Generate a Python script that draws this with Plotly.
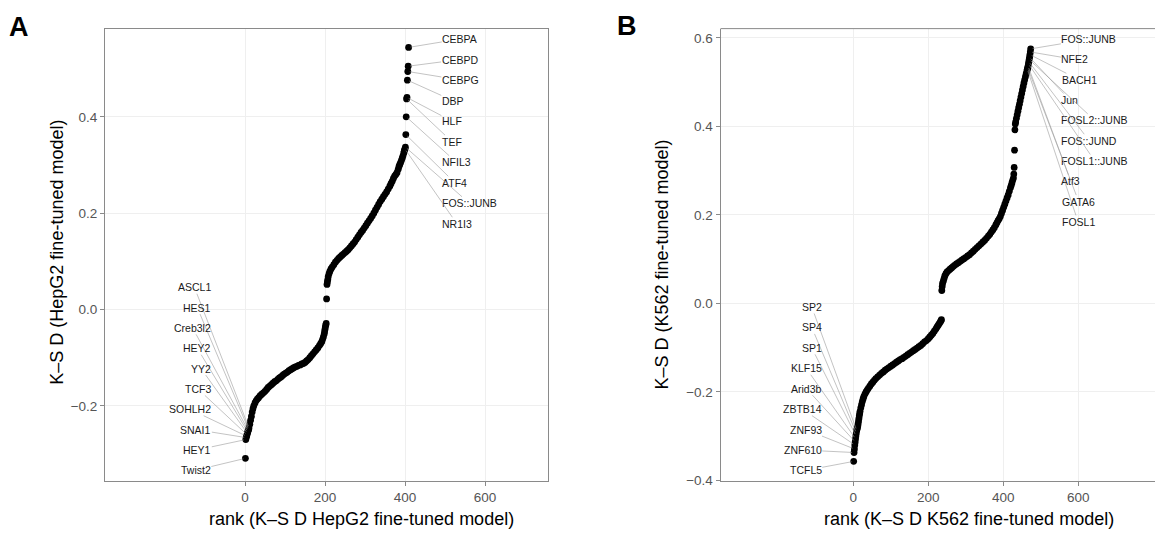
import plotly.graph_objects as go

# ---------------- data ----------------
A_rank = [1, 2, 3, 4, 5, 6, 7, 8, 9, 10, 12, 14, 16, 18, 20, 22, 25, 28, 31, 34, 38, 42, 46, 50,
          54, 58, 62, 66, 70, 74, 78, 82, 86, 90, 94, 98, 102, 106, 110, 114, 118, 122, 126, 130,
          134, 138, 142, 146, 150, 154, 158, 162, 166, 170, 174, 178, 182, 186, 189, 192, 194, 196,
          198, 199, 200, 201, 202, 203, 204, 205, 206, 207, 208, 210, 212, 215, 218, 222, 226, 230,
          234, 238, 242, 246, 250, 254, 258, 262, 266, 270, 274, 278, 282, 286, 290, 294, 298, 302,
          306, 310, 314, 318, 322, 326, 330, 334, 338, 342, 346, 350, 354, 358, 362, 365, 368, 371,
          374, 377, 380, 383, 385, 387, 389, 391, 393, 395, 397, 398, 399, 400, 401, 402, 403, 404,
          405, 406, 407, 408, 409]
A_ksd = [-0.309, -0.270, -0.266, -0.263, -0.260, -0.257, -0.254, -0.251, -0.249, -0.246, -0.238,
         -0.230, -0.222, -0.213, -0.206, -0.200, -0.194, -0.189, -0.186, -0.183, -0.179, -0.176,
         -0.173, -0.170, -0.166, -0.162, -0.159, -0.156, -0.153, -0.150, -0.148, -0.145, -0.142,
         -0.140, -0.137, -0.134, -0.132, -0.130, -0.127, -0.125, -0.123, -0.121, -0.119, -0.118,
         -0.116, -0.115, -0.113, -0.112, -0.110, -0.107, -0.104, -0.100, -0.096, -0.092, -0.088,
         -0.084, -0.080, -0.075, -0.071, -0.067, -0.062, -0.057, -0.051, -0.046, -0.041, -0.036,
         -0.032, -0.029, 0.022, 0.052, 0.057, 0.062, 0.068, 0.074, 0.079, 0.084, 0.088, 0.093,
         0.098, 0.102, 0.106, 0.109, 0.112, 0.115, 0.118, 0.121, 0.124, 0.128, 0.132, 0.136, 0.140,
         0.145, 0.150, 0.155, 0.160, 0.164, 0.169, 0.174, 0.179, 0.184, 0.189, 0.194, 0.200, 0.206,
         0.212, 0.218, 0.224, 0.229, 0.234, 0.239, 0.244, 0.250, 0.256, 0.261, 0.266, 0.272, 0.277,
         0.280, 0.284, 0.291, 0.297, 0.301, 0.305, 0.309, 0.314, 0.319, 0.325, 0.328, 0.331, 0.333,
         0.337, 0.363, 0.400, 0.437, 0.440, 0.476, 0.494, 0.505, 0.544]

A_top_labels = ["CEBPA", "CEBPD", "CEBPG", "DBP", "HLF", "TEF", "NFIL3", "ATF4", "FOS::JUNB", "NR1I3"]
A_top_ranks = [409, 408, 407, 406, 405, 404, 403, 402, 401, 400]
A_bottom_labels = ["ASCL1", "HES1", "Creb3l2", "HEY2", "YY2", "TCF3", "SOHLH2", "SNAI1", "HEY1", "Twist2"]
A_bottom_ranks = [10, 9, 8, 7, 6, 5, 4, 3, 2, 1]

B_rank = [1, 2, 3, 4, 5, 6, 7, 8, 9, 10, 11, 12, 13, 14, 15, 16, 17, 18, 20, 22, 24, 26, 28, 31, 34,
          37, 40, 44, 48, 52, 56, 60, 65, 70, 75, 80, 85, 90, 95, 100, 105, 110, 115, 120, 125, 130,
          135, 140, 145, 150, 155, 160, 165, 170, 175, 180, 185, 190, 195, 200, 204, 208, 212, 216,
          220, 223, 226, 229, 232, 234, 235, 236, 237, 238, 240, 242, 244, 247, 250, 254, 258, 262,
          266, 270, 275, 280, 285, 290, 295, 300, 305, 310, 315, 320, 325, 330, 335, 340, 345, 350,
          355, 360, 364, 368, 372, 376, 380, 383, 386, 389, 392, 395, 398, 401, 404, 407, 410, 413,
          416, 419, 421, 423, 425, 427, 428, 429, 430, 431, 432, 433, 435, 437, 439, 441, 443, 445,
          447, 449, 451, 453, 455, 457, 459, 461, 463, 464, 465, 466, 467, 468, 469, 470, 471, 472, 473]
B_ksd = [-0.357, -0.337, -0.329, -0.320, -0.313, -0.306, -0.299, -0.293, -0.287, -0.284, -0.281,
         -0.277, -0.272, -0.266, -0.260, -0.254, -0.249, -0.244, -0.236, -0.229, -0.222, -0.216,
         -0.211, -0.205, -0.200, -0.196, -0.192, -0.187, -0.182, -0.178, -0.174, -0.170, -0.166,
         -0.162, -0.158, -0.155, -0.151, -0.148, -0.145, -0.142, -0.139, -0.136, -0.133, -0.130,
         -0.127, -0.125, -0.122, -0.119, -0.116, -0.113, -0.110, -0.107, -0.104, -0.101, -0.098,
         -0.095, -0.091, -0.087, -0.084, -0.080, -0.076, -0.072, -0.068, -0.063, -0.058, -0.054,
         -0.050, -0.046, -0.042, -0.039, -0.037, 0.029, 0.038, 0.045, 0.050, 0.056, 0.062, 0.067,
         0.071, 0.074, 0.077, 0.080, 0.083, 0.086, 0.089, 0.092, 0.095, 0.098, 0.101, 0.104, 0.107,
         0.110, 0.114, 0.118, 0.122, 0.126, 0.130, 0.134, 0.138, 0.142, 0.147, 0.152, 0.156, 0.161,
         0.166, 0.171, 0.177, 0.182, 0.187, 0.191, 0.196, 0.203, 0.210, 0.217, 0.224, 0.231, 0.238,
         0.245, 0.253, 0.261, 0.266, 0.272, 0.278, 0.283, 0.292, 0.307, 0.346, 0.392, 0.405, 0.410,
         0.418, 0.426, 0.434, 0.442, 0.450, 0.458, 0.466, 0.474, 0.482, 0.490, 0.498, 0.505, 0.512,
         0.519, 0.525, 0.529, 0.532, 0.536, 0.541, 0.546, 0.551, 0.556, 0.562, 0.568, 0.575]

B_top_labels = ["FOS::JUNB", "NFE2", "BACH1", "Jun", "FOSL2::JUNB", "FOS::JUND", "FOSL1::JUNB",
                "Atf3", "GATA6", "FOSL1"]
B_top_ranks = [473, 472, 471, 470, 469, 468, 467, 466, 465, 464]
B_bottom_labels = ["SP2", "SP4", "SP1", "KLF15", "Arid3b", "ZBTB14", "ZNF93", "ZNF610", "TCFL5"]
B_bottom_ranks = [9, 8, 7, 6, 5, 4, 3, 2, 1]

X_TICKS = [0, 200, 400, 600]
A_Y_TICKS = [-0.2, 0.0, 0.2, 0.4]
B_Y_TICKS = [-0.4, -0.2, 0.0, 0.2, 0.4, 0.6]

# ---------------- layout geometry (pixels) ----------------
W, H = 1155, 540
FONT = "Liberation Sans, Arial, Helvetica, sans-serif"
PANELS = {
    "A": dict(x0=105, x1=548, y0=29, y1=487.3, xr=(-350, 757.5), yr=(-0.356, 0.583), xa="x", ya="y"),
    "B": dict(x0=720.5, x1=1155, y0=29, y1=487.3, xr=(-354.1, 804.5), yr=(-0.4013, 0.6207), xa="x2", ya="y2"),
}
LABEL_SIZE = 10.5
CW = {c: 667 for c in "ABEKPSVXY"}
CW.update({c: 722 for c in "CDHNRUw"})
CW.update({c: 778 for c in "GOQ"})
CW.update({"F": 611, "T": 611, "Z": 611, "I": 278, "J": 500, "L": 556, "M": 833, "W": 944})
CW.update({c: 556 for c in "0123456789abdeghnopqu"})
CW.update({c: 500 for c in "cksvxyz"})
CW.update({"f": 278, "t": 278, "i": 222, "j": 222, "l": 222, "m": 833, "r": 333, ":": 278})


def text_w(s, size):
    return sum(CW.get(ch, 556) for ch in s) / 1000.0 * size


def px2x(p, px):
    return p["xr"][0] + (px - p["x0"]) / (p["x1"] - p["x0"]) * (p["xr"][1] - p["xr"][0])


def px2y(p, py):
    return p["yr"][0] + (p["y1"] - py) / (p["y1"] - p["y0"]) * (p["yr"][1] - p["yr"][0])


fig = go.Figure()
fig.add_trace(go.Scatter(x=A_rank, y=A_ksd, mode="markers", xaxis="x", yaxis="y",
                         marker=dict(color="black", size=6.8, line=dict(width=0)), showlegend=False))
fig.add_trace(go.Scatter(x=B_rank, y=B_ksd, mode="markers", xaxis="x2", yaxis="y2",
                         marker=dict(color="black", size=6.8, line=dict(width=0)), showlegend=False))

annotations = []


def add_labels(panel, labels, ranks, rank_list, val_list, side, edge_px, y_first, y_step):
    p = PANELS[panel]
    lookup = dict(zip(rank_list, val_list))
    for i, (lab, r) in enumerate(zip(labels, ranks)):
        w = text_w(lab, LABEL_SIZE)
        cx = edge_px + w / 2 if side == "right" else edge_px - w / 2
        cy = y_first + i * y_step
        annotations.append(dict(
            x=r, y=lookup[r], xref=p["xa"], yref=p["ya"],
            ax=px2x(p, cx), ay=px2y(p, cy), axref=p["xa"], ayref=p["ya"],
            text=lab, showarrow=True, arrowhead=0, arrowwidth=0.6, arrowcolor="#9a9a9a",
            standoff=2, font=dict(family=FONT, size=LABEL_SIZE, color="#1a1a1a"),
            borderpad=0,
        ))


add_labels("A", A_top_labels, A_top_ranks, A_rank, A_ksd, "right", 442, 39.5, 20.8)
add_labels("A", A_bottom_labels, A_bottom_ranks, A_rank, A_ksd, "left", 211, 291.0, 20.6)
add_labels("B", B_top_labels, B_top_ranks, B_rank, B_ksd, "right", 1061.5, 39.7, 20.57)
add_labels("B", B_bottom_labels, B_bottom_ranks, B_rank, B_ksd, "left", 821.7, 311.0, 20.7)


def paper_text(text, xpx, ypx, size, xanchor="center", angle=0, bold=False):
    annotations.append(dict(
        text=f"<b>{text}</b>" if bold else text, x=xpx / W, y=(H - ypx) / H, xref="paper", yref="paper",
        showarrow=False, xanchor=xanchor, yanchor="middle", textangle=angle,
        font=dict(family=FONT, size=size, color="black"),
    ))


paper_text("A", 7, 27, 27, xanchor="left", bold=True)
paper_text("B", 615, 26, 27, xanchor="left", bold=True)
paper_text("rank (K–S D HepG2 fine-tuned model)", 361.5, 526, 18)
paper_text("rank (K–S D K562 fine-tuned model)", 969, 526, 18)
paper_text("K–S D (HepG2 fine-tuned model)", 57, 256, 18, angle=-90)
paper_text("K–S D (K562 fine-tuned model)", 662, 268, 18, angle=-90)

axis_common = dict(
    showgrid=True, gridcolor="#efefef", gridwidth=1, zeroline=False,
    showline=True, linecolor="#8a8a8a", linewidth=1,
    ticks="outside", ticklen=4, tickwidth=1, tickcolor="#8a8a8a",
    tickfont=dict(family=FONT, size=13.5, color="#555555"),
)

pa, pb = PANELS["A"], PANELS["B"]
fig.update_layout(
    width=W, height=H, margin=dict(l=0, r=0, t=0, b=0),
    paper_bgcolor="white", plot_bgcolor="white", showlegend=False,
    xaxis=dict(domain=[pa["x0"] / W, pa["x1"] / W], range=list(pa["xr"]), anchor="y",
               tickvals=X_TICKS, mirror=True, **axis_common),
    yaxis=dict(domain=[(H - pa["y1"]) / H, (H - pa["y0"]) / H], range=list(pa["yr"]), anchor="x",
               tickvals=A_Y_TICKS, tickformat=".1f", mirror=True, **axis_common),
    xaxis2=dict(domain=[pb["x0"] / W, pb["x1"] / W], range=list(pb["xr"]), anchor="y2",
                tickvals=X_TICKS, **axis_common),
    yaxis2=dict(domain=[(H - pb["y1"]) / H, (H - pb["y0"]) / H], range=list(pb["yr"]), anchor="x2",
                tickvals=B_Y_TICKS, tickformat=".1f", **axis_common),
    annotations=annotations,
    shapes=[dict(type="line", xref="x2 domain", yref="y2 domain", x0=0, x1=1, y0=1, y1=1,
                 line=dict(color="#8a8a8a", width=1))],
)

fig.write_html("out.html", config={"displayModeBar": False},
               post_script="document.body.style.margin='0';document.body.style.overflow='hidden';")
